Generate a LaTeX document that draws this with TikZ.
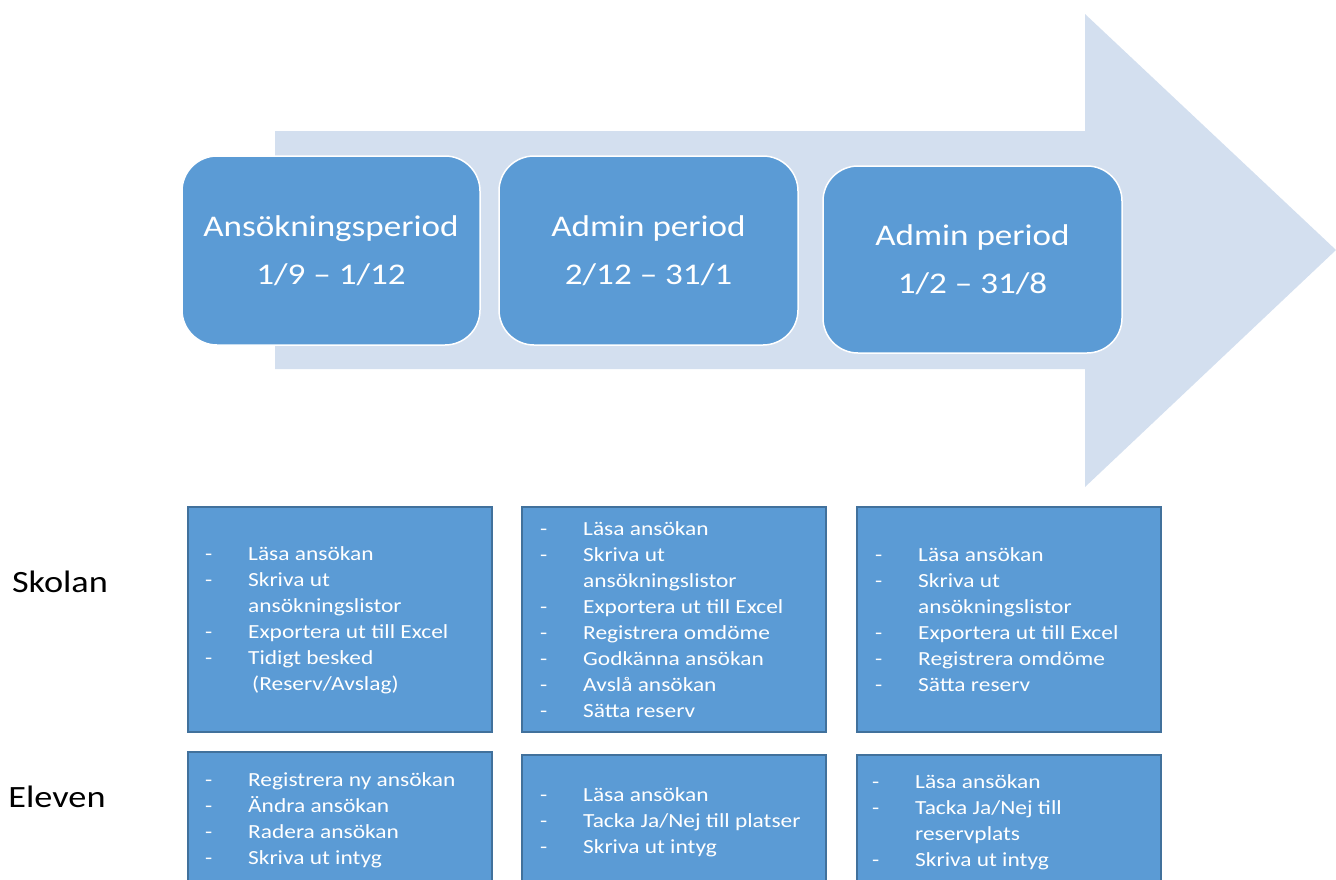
\documentclass[tikz,border=0pt]{standalone}
\usepackage{fontspec}
\setmainfont{Carlito}[FakeStretch=1.17]
\definecolor{arrowc}{HTML}{D3DFEF}
\definecolor{boxc}{HTML}{5B9BD5}
\definecolor{edgec}{HTML}{41719C}
\newcommand\ti[1]{\makebox[43pt][l]{-}#1}
\newcommand\tc[1]{\hspace*{43pt}#1}
\tikzset{
  period/.style={draw=white, line width=1.5pt, fill=boxc, rounded corners=35pt,
    text=white, font=\fontsize{30}{48}\selectfont, align=center, inner sep=0pt},
  taskbox/.style={draw=edgec, line width=1.2pt, fill=boxc, inner sep=0pt,
    minimum width=304pt},
  tasktext/.style={text=white, font=\fontsize{20}{26}\selectfont, align=left,
    anchor=west, inner sep=0pt},
  rowlabel/.style={font=\fontsize{31}{36}\selectfont, inner sep=0pt}
}
\begin{document}
\begin{tikzpicture}[x=1pt,y=-1pt]
\useasboundingbox (0,0) rectangle (1336,879);
% big arrow
\fill[arrowc] (275,131) -- (1085,131) -- (1085,14) -- (1336,250) -- (1085,487)
  -- (1085,369) -- (275,369) -- cycle;
% period boxes
\node[period, minimum width=298pt, minimum height=189pt] (p1) at (331,250.5)
  {Ansökningsperiod\\1/9 – 1/12};
\node[period, minimum width=299pt, minimum height=189pt] (p2) at (648.5,250.5)
  {Admin period\\2/12 – 31/1};
\node[period, minimum width=299pt, minimum height=187pt] (p3) at (972.5,259.5)
  {Admin period\\1/2 – 31/8};
% row labels
\node[rowlabel] (skolan) at (60,582) {Skolan};
\node[rowlabel] (eleven) at (57,797) {Eleven};
% Skolan boxes
\node[taskbox, minimum height=225pt] (s1) at (340,619.5) {};
\node[taskbox, minimum height=225pt] (s2) at (674,619.5) {};
\node[taskbox, minimum height=225pt] (s3) at (1009,619.5) {};
% Eleven boxes
\node[taskbox, minimum height=138pt] (e1) at (340,821) {};
\node[taskbox, minimum height=135pt] (e2) at (674,822.5) {};
\node[taskbox, minimum height=135pt] (e3) at (1009,822.5) {};
% texts
\node[tasktext] (s1t) at (205,620) {\ti{Läsa ansökan}\\\ti{Skriva ut}\\\tc{ansökningslistor}\\\ti{Exportera ut till Excel}\\\ti{Tidigt besked}\\\tc{\hspace*{4pt}(Reserv/Avslag)}};
\node[tasktext] (s2t) at (540,620) {\ti{Läsa ansökan}\\\ti{Skriva ut}\\\tc{ansökningslistor}\\\ti{Exportera ut till Excel}\\\ti{Registrera omdöme}\\\ti{Godkänna ansökan}\\\ti{Avslå ansökan}\\\ti{Sätta reserv}};
\node[tasktext] (s3t) at (875,620) {\ti{Läsa ansökan}\\\ti{Skriva ut}\\\tc{ansökningslistor}\\\ti{Exportera ut till Excel}\\\ti{Registrera omdöme}\\\ti{Sätta reserv}};
\node[tasktext] (e1t) at (205,820) {\ti{Registrera ny ansökan}\\\ti{Ändra ansökan}\\\ti{Radera ansökan}\\\ti{Skriva ut intyg}};
\node[tasktext] (e2t) at (540,822) {\ti{Läsa ansökan}\\\ti{Tacka Ja/Nej till platser}\\\ti{Skriva ut intyg}};
\node[tasktext] (e3t) at (872,822) {\ti{Läsa ansökan}\\\ti{Tacka Ja/Nej till}\\\tc{reservplats}\\\ti{Skriva ut intyg}};
\end{tikzpicture}
\end{document}
